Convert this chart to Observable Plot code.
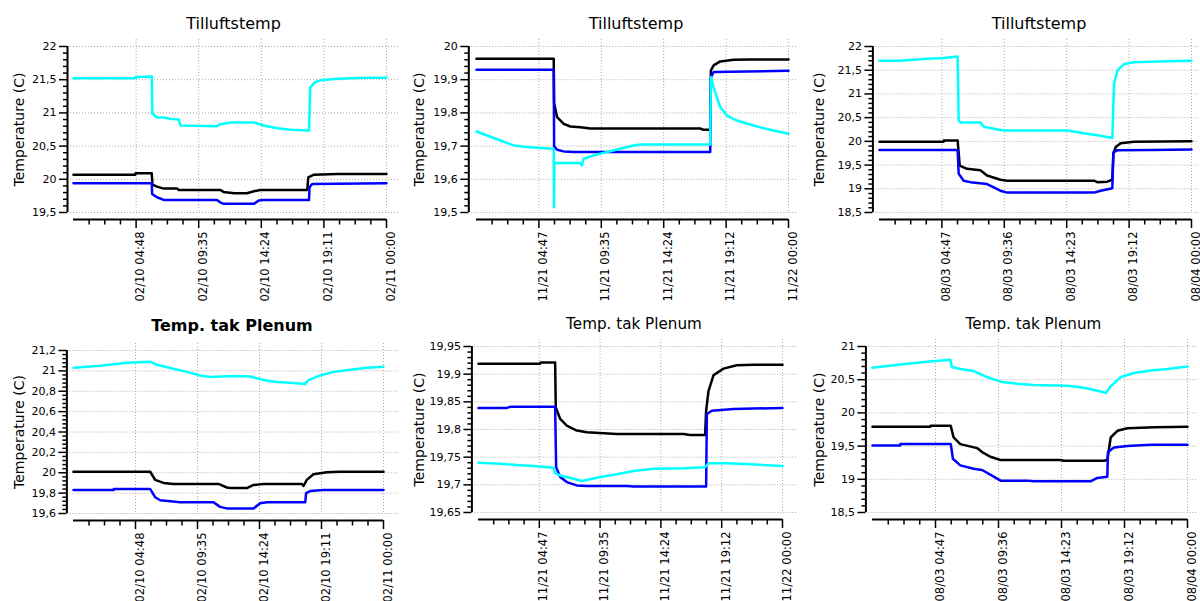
<!DOCTYPE html>
<html><head><meta charset="utf-8">
<script src="https://cdn.jsdelivr.net/npm/d3@7"></script>
<script src="https://cdn.jsdelivr.net/npm/@observablehq/plot@0.6"></script>
<style>
body{margin:0;background:#fff;width:1200px;height:601px;overflow:hidden;font-family:"DejaVu Sans",sans-serif;position:relative;}
.panel{position:absolute;width:400px;height:300px;}
.title{position:absolute;width:300px;text-align:center;line-height:20px;color:#000;white-space:nowrap;}
.chart{position:absolute;left:0;top:36px;width:400px;height:264px;}
.chart svg{overflow:visible;}
</style></head><body>
<script>
// ---- titles & tick labels ----
const titles = ["Tilluftstemp", "Temp. tak Plenum"];
const yLabel = "Temperature (C)";
const febLabels = ["02/10 04:48", "02/10 09:35", "02/10 14:24", "02/10 19:11", "02/11 00:00"];
const novLabels = ["11/21 04:47", "11/21 09:35", "11/21 14:24", "11/21 19:12", "11/22 00:00"];
const augLabels = ["08/03 04:47", "08/03 09:36", "08/03 14:23", "08/03 19:12", "08/04 00:00"];
const majorHours = [4.8, 9.6, 14.4, 19.2, 24];

const p1YTicks = [19.5, 20, 20.5, 21, 21.5, 22];
const p2YTicks = [19.5, 19.6, 19.7, 19.8, 19.9, 20];
const p3YTicks = [18.5, 19, 19.5, 20, 20.5, 21, 21.5, 22];
const p4YTicks = [19.6, 19.8, 20, 20.2, 20.4, 20.6, 20.8, 21, 21.2];
const p5YTicks = [19.65, 19.7, 19.75, 19.8, 19.85, 19.9, 19.95];
const p6YTicks = [18.5, 19, 19.5, 20, 20.5, 21];

// ---- series: [hour of day, temperature] ----
const febTillBlack = [[0,20.07],[4.74,20.07],[4.76,20.09],[6.0,20.09],[6.05,19.92],[6.4,19.89],[6.92,19.86],[7.94,19.86],[8.07,19.84],[11.27,19.84],[11.5,19.81],[12.3,19.79],[13.3,19.79],[13.83,19.82],[14.34,19.84],[17.93,19.84],[18.0,20.03],[18.44,20.07],[20.2,20.08],[24,20.08]];
const febTillBlue = [[0,19.94],[6.0,19.94],[6.03,19.78],[6.4,19.73],[6.92,19.69],[11.0,19.69],[11.27,19.65],[11.53,19.63],[13.83,19.63],[14.21,19.68],[14.6,19.69],[18.06,19.69],[18.1,19.88],[18.3,19.93],[24,19.94]];
const febTillCyan = [[0,21.52],[4.74,21.52],[4.76,21.54],[6.0,21.55],[6.05,20.99],[6.4,20.93],[6.92,20.93],[7.43,20.91],[8.07,20.9],[8.2,20.81],[11.0,20.8],[11.27,20.83],[12.04,20.855],[13.83,20.855],[14.6,20.81],[15.62,20.77],[16.65,20.745],[18.06,20.735],[18.15,21.38],[18.5,21.46],[18.95,21.49],[19.98,21.51],[21.26,21.52],[22.54,21.53],[24,21.53]];

const novTillBlack = [[0,19.963],[5.94,19.963],[5.97,19.83],[6.2,19.787],[6.71,19.767],[7.22,19.759],[7.99,19.757],[8.76,19.753],[17.21,19.753],[17.47,19.749],[17.98,19.749],[18.03,19.928],[18.24,19.943],[18.75,19.955],[19.77,19.96],[21.05,19.961],[24,19.961]];
const novTillBlue = [[0,19.93],[5.94,19.93],[5.97,19.7],[6.2,19.689],[6.71,19.684],[7.48,19.682],[17.98,19.682],[18.03,19.908],[18.24,19.923],[24,19.927]];
const novTillCyan = [[0,19.744],[0.82,19.732],[1.84,19.717],[2.87,19.702],[3.89,19.697],[5.81,19.692],[5.94,19.69],[5.96,19.516],[5.99,19.65],[6.2,19.649],[7.99,19.649],[8.1,19.642],[8.25,19.662],[9.02,19.672],[10.04,19.682],[11.07,19.692],[12.09,19.702],[12.6,19.705],[17.98,19.705],[18.03,19.908],[18.24,19.877],[18.75,19.817],[19.26,19.792],[20.03,19.777],[21.31,19.762],[22.59,19.749],[24,19.737]];

const augTillBlack = [[0,19.99],[4.93,19.99],[4.95,20.02],[6.01,20.02],[6.17,19.49],[6.73,19.42],[7.76,19.39],[8.27,19.28],[9.3,19.19],[9.81,19.17],[16.5,19.17],[16.75,19.14],[17.52,19.15],[17.91,19.19],[17.99,19.74],[18.17,19.88],[18.55,19.96],[19.58,19.99],[24,20.0]];
const augTillBlue = [[0,19.82],[6.01,19.82],[6.09,19.32],[6.47,19.17],[6.99,19.14],[8.27,19.1],[8.79,19.03],[9.3,18.96],[9.81,18.92],[16.5,18.92],[17.01,18.96],[17.91,19.01],[17.99,19.77],[18.29,19.81],[20.86,19.82],[24,19.83]];
const augTillCyan = [[0,21.7],[1.59,21.7],[3.65,21.74],[4.93,21.76],[5.96,21.79],[6.01,21.79],[6.09,20.44],[6.22,20.4],[7.76,20.4],[8.02,20.31],[9.3,20.24],[9.81,20.23],[14.44,20.23],[15.72,20.17],[17.01,20.12],[17.91,20.07],[18.04,21.21],[18.29,21.49],[18.81,21.63],[19.58,21.67],[22.15,21.69],[24,21.7]];

const febTakBlack = [[0,20.01],[5.94,20.01],[6.32,19.93],[6.97,19.9],[7.74,19.89],[11.23,19.89],[11.87,19.855],[12.13,19.85],[13.42,19.85],[13.94,19.88],[14.71,19.89],[17.68,19.89],[17.81,19.87],[18.06,19.93],[18.58,19.985],[19.61,20.005],[20.65,20.01],[24,20.01]];
const febTakBlue = [[0,19.83],[3.1,19.83],[3.12,19.84],[5.94,19.84],[6.32,19.76],[6.71,19.73],[8.26,19.71],[10.84,19.71],[11.35,19.665],[11.87,19.65],[13.94,19.65],[14.45,19.7],[14.97,19.71],[17.94,19.71],[18.01,19.8],[18.32,19.82],[19.35,19.83],[24,19.83]];
const febTakCyan = [[0,21.03],[2.06,21.05],[4.13,21.08],[5.94,21.09],[6.45,21.06],[7.74,21.02],[8.77,20.99],[9.81,20.955],[10.58,20.94],[12.39,20.95],[13.68,20.945],[14.71,20.91],[15.74,20.89],[17.03,20.88],[17.94,20.87],[18.19,20.91],[19.1,20.955],[20.13,20.99],[21.42,21.01],[22.71,21.03],[24,21.04]];

const novTakBlack = [[0,19.919],[4.87,19.919],[4.9,19.921],[6.05,19.921],[6.1,19.84],[6.45,19.819],[6.97,19.807],[7.76,19.798],[8.55,19.795],[10.92,19.792],[16.18,19.792],[16.71,19.79],[17.89,19.79],[17.97,19.834],[18.16,19.87],[18.55,19.898],[19.34,19.91],[20.39,19.916],[21.71,19.917],[24,19.917]];
const novTakBlue = [[0,19.839],[2.24,19.839],[2.5,19.841],[6.05,19.841],[6.13,19.732],[6.45,19.714],[6.97,19.705],[7.76,19.699],[8.55,19.698],[11.71,19.698],[12.24,19.697],[17.97,19.697],[18.03,19.828],[18.42,19.834],[20.13,19.837],[24,19.839]];
const novTakCyan = [[0,19.74],[1.71,19.738],[3.03,19.736],[4.87,19.733],[5.92,19.731],[6.05,19.721],[6.45,19.717],[7.5,19.711],[8.16,19.707],[9.61,19.714],[10.92,19.719],[12.24,19.725],[13.82,19.729],[16.18,19.73],[17.89,19.732],[18.16,19.739],[19.61,19.739],[21.45,19.737],[24,19.734]];

const augTakBlack = [[0,19.79],[4.4,19.79],[4.42,19.805],[5.96,19.805],[6.18,19.63],[6.69,19.53],[7.97,19.47],[8.35,19.41],[8.98,19.34],[9.75,19.29],[14.33,19.29],[14.58,19.28],[17.64,19.28],[17.89,19.29],[18.15,19.63],[18.66,19.73],[19.42,19.77],[21.46,19.785],[24,19.79]];
const augTakBlue = [[0,19.51],[2.11,19.51],[2.13,19.53],[5.96,19.53],[6.13,19.31],[6.69,19.21],[7.71,19.16],[8.35,19.14],[9.24,19.04],[9.75,18.98],[11.78,18.98],[12.29,18.97],[16.62,18.97],[17.13,19.02],[17.89,19.04],[17.94,19.41],[18.4,19.48],[19.42,19.5],[21.2,19.52],[24,19.52]];
const augTakCyan = [[0,20.68],[2.11,20.73],[4.15,20.77],[5.93,20.8],[6.06,20.69],[6.69,20.66],[7.71,20.63],[8.73,20.54],[9.75,20.47],[11.02,20.44],[12.29,20.42],[14.84,20.41],[16.11,20.38],[17.64,20.31],[17.77,20.3],[18.15,20.4],[18.91,20.54],[19.93,20.6],[21.2,20.64],[22.47,20.66],[24,20.7]];

const seriesColors = ["#000000", "#0000ff", "#00ffff"];

// ---- panel layout ----
const panels = [
  {col:0,row:0,title:titles[0],bold:false,fs:16,titleTop:13.5,ml:73,mr:14,mt:10,mb:88,axDx:-6,yTicks:p1YTicks,yStep:0.1,xLabels:febLabels,series:[febTillBlack,febTillBlue,febTillCyan]},
  {col:1,row:0,title:titles[0],bold:false,fs:16,titleTop:13.5,ml:76,mr:12,mt:10,mb:88,axDx:-7.7,yTicks:p2YTicks,yStep:0.02,xLabels:novLabels,series:[novTillBlack,novTillBlue,novTillCyan]},
  {col:2,row:0,title:titles[0],bold:false,fs:16,titleTop:13.5,ml:79,mr:9,mt:10,mb:88,axDx:-6.6,yTicks:p3YTicks,yStep:0.1,xLabels:augLabels,series:[augTillBlack,augTillBlue,augTillCyan]},
  {col:0,row:1,title:titles[1],bold:true,fs:16,titleTop:15.5,ml:73,mr:17,mt:14,mb:87,axDx:-6.6,yTicks:p4YTicks,yStep:0.04,xLabels:febLabels,series:[febTakBlack,febTakBlue,febTakCyan]},
  {col:1,row:1,title:titles[1],bold:false,fs:15.2,titleTop:13.5,ml:78,mr:18,mt:10,mb:88,axDx:-6.6,yTicks:p5YTicks,yStep:0.01,xLabels:novLabels,series:[novTakBlack,novTakBlue,novTakCyan]},
  {col:2,row:1,title:titles[1],bold:false,fs:15.2,titleTop:13.5,ml:72,mr:13,mt:10,mb:88,axDx:-6.6,yTicks:p6YTicks,yStep:0.1,xLabels:augLabels,series:[augTakBlack,augTakBlue,augTakCyan]}
];

const xDomain = [0, 24];
const minorHours = d3.range(1, 20).map(i => +(i * 1.2).toFixed(3)).filter(h => !majorHours.some(m => Math.abs(m - h) < 1e-6));
const fmt = d => String(d).replace(".", ",");
const gridColor = "#a8a8a8";

for (const p of panels) {
  const yMin = p.yTicks[0], yMax = p.yTicks[p.yTicks.length - 1];
  const n = Math.round((yMax - yMin) / p.yStep);
  const minorY = d3.range(n + 1).map(i => +(yMin + i * p.yStep).toFixed(4))
    .filter(v => !p.yTicks.some(t => Math.abs(t - v) < 1e-6));

  const panel = document.createElement("div");
  panel.className = "panel";
  panel.style.left = (p.col * 400) + "px";
  panel.style.top = (p.row * 300) + "px";

  const cx = (p.ml + 400 - p.mr) / 2 + 4;
  const t = document.createElement("div");
  t.className = "title";
  t.textContent = p.title;
  t.style.left = (cx - 150) + "px";
  t.style.top = p.titleTop + "px";
  t.style.fontSize = p.fs + "px";
  t.style.fontWeight = p.bold ? "bold" : "normal";
  panel.appendChild(t);

  const chart = Plot.plot({
    width: 400, height: 264,
    marginLeft: p.ml, marginRight: p.mr, marginTop: p.mt, marginBottom: p.mb,
    x: {domain: xDomain, axis: null},
    y: {domain: [yMin, yMax], axis: null},
    style: {fontFamily: "DejaVu Sans, sans-serif", fontSize: "11px", background: "transparent", overflow: "visible", color: "#000"},
    marks: [
      Plot.ruleY(p.yTicks, {stroke: gridColor, strokeDasharray: "1,2", insetLeft: p.axDx, insetRight: -(p.mr - 2)}),
      Plot.ruleX(majorHours, {stroke: gridColor, strokeDasharray: "1,2", insetTop: -7}),
      Plot.ruleX([xDomain[0]], {dx: p.axDx, stroke: "#000", strokeWidth: 2}),
      Plot.ruleY([yMin], {dy: 7, stroke: "#000", strokeWidth: 2}),
      Plot.axisY(p.yTicks, {tickSize: 8, tickPadding: 3, dx: p.axDx, tickFormat: fmt, strokeWidth: 1.5, fontSize: 11, label: null}),
      Plot.axisY(minorY, {tickSize: 4, dx: p.axDx, tickFormat: () => "", strokeWidth: 1.5, label: null}),
      Plot.axisX(majorHours, {tickSize: 9, dy: 7, tickFormat: () => "", strokeWidth: 1.5, label: null}),
      Plot.axisX(minorHours, {tickSize: 5.5, dy: 7, tickFormat: () => "", strokeWidth: 1.5, label: null}),
      Plot.text(majorHours, {x: d => d, text: (d, i) => p.xLabels[i], frameAnchor: "bottom", rotate: -90, textAnchor: "end", lineAnchor: "top", dy: 19, fontSize: 11.5, fill: "#000"}),
      Plot.text([yLabel], {text: d => d, frameAnchor: "left", rotate: -90, textAnchor: "middle", lineAnchor: "middle", dx: 19 - p.ml, fontSize: 14, fill: "#000"}),
      ...p.series.map((s, i) => Plot.line(s, {x: d => d[0], y: d => d[1], stroke: seriesColors[i], strokeWidth: 2.5}))
    ]
  });
  const wrap = document.createElement("div");
  wrap.className = "chart";
  wrap.appendChild(chart);
  panel.appendChild(wrap);
  document.body.appendChild(panel);
}
</script>
</body></html>
